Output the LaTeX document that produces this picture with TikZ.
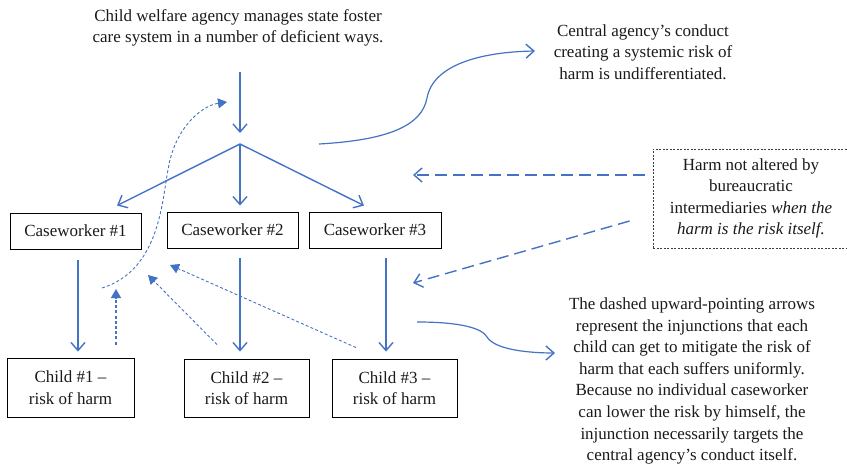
\documentclass[tikz,border=0pt]{standalone}
\usepackage{fontspec}
\setmainfont{Liberation Serif}
\usetikzlibrary{arrows.meta,calc}
\definecolor{bl}{HTML}{4472C4}
\definecolor{ink}{HTML}{1A1A1A}
\tikzset{
  txt/.style={font=\fontsize{17}{21.6}\selectfont, text=ink, align=center, inner sep=0pt},
  box/.style={txt, draw=black, line width=0.9pt, inner sep=0pt},
  arr/.style={draw=bl, line width=1.4pt, -{Straight Barb[length=8pt,width=14pt,line width=1.4pt]}},
  darr/.style={draw=bl, line width=1.4pt, dash pattern=on 12pt off 6pt, -{Straight Barb[length=8pt,width=14pt,line width=1.4pt]}},
  tarr/.style={draw=bl, line width=0.9pt, dash pattern=on 3pt off 2.2pt, -{Triangle[length=9pt,width=10pt]}},
}
\begin{document}
\begin{tikzpicture}[x=1pt,y=-1pt]
\useasboundingbox (0,0) rectangle (847,468);
% texts
\node[txt] (top) at (238,28) {Child welfare agency manages state foster\\care system in a number of deficient ways.};
\node[txt] (central) at (643,52) {Central agency’s conduct\\creating a systemic risk of\\harm is undifferentiated.};
\node[txt, draw=ink!85, line width=0.8pt, dash pattern=on 2pt off 1.5pt, minimum width=196pt, minimum height=99pt] (harm) at (751,198.5)
  {Harm not altered by\\bureaucratic\\intermediaries \textit{when the}\\\textit{harm is the risk itself.}};
\node[txt] (note) at (692,381) {The dashed upward-pointing arrows\\represent the injunctions that each\\child can get to mitigate the risk of\\harm that each suffers uniformly.\\Because no individual caseworker\\can lower the risk by himself, the\\injunction necessarily targets the\\central agency’s conduct itself.};
% boxes
\node[box, minimum width=131pt, minimum height=36pt] (cw1) at (75.5,231) {Caseworker \#1};
\node[box, minimum width=131pt, minimum height=36pt] (cw2) at (232.5,230) {Caseworker \#2};
\node[box, minimum width=132pt, minimum height=36pt] (cw3) at (375,230) {Caseworker \#3};
\node[box, minimum width=127pt, minimum height=59pt] (ch1) at (70.5,387.5) {Child \#1 –\\risk of harm};
\node[box, minimum width=125pt, minimum height=58pt] (ch2) at (246.5,388) {Child \#2 –\\risk of harm};
\node[box, minimum width=125pt, minimum height=58pt] (ch3) at (394.5,388) {Child \#3 –\\risk of harm};
% coordinates
\coordinate (a0) at (240,72);
\coordinate (a1) at (240,133);
\coordinate (br) at (240,144);
\coordinate (s1) at (319,144);
\coordinate (e1) at (535,51);
\coordinate (s2) at (417,322);
\coordinate (e2) at (555,353);
\coordinate (t1) at (116,289);
\coordinate (t2) at (148,275);
\coordinate (t3) at (170,265);
\coordinate (c0) at (102,288);
\coordinate (c1) at (227,102);
\coordinate (h1) at (413,175);
\coordinate (h2) at (413,283);
% main arrows
\draw[arr] (a0) -- (a1);
\draw[arr] (br) -- ([xshift=41.5pt,yshift=7pt]cw1.north);
\draw[arr] (br) -- ([xshift=7.5pt,yshift=6pt]cw2.north);
\draw[arr] (br) -- ([xshift=-11pt,yshift=6pt]cw3.north);
\draw[arr] ([xshift=2.5pt,yshift=-11pt]cw1.south) -- ([xshift=7.5pt,yshift=6pt]ch1.north);
\draw[arr] ([xshift=7.5pt,yshift=-10pt]cw2.south) -- ([xshift=-6.5pt,yshift=7pt]ch2.north);
\draw[arr] ([xshift=11pt,yshift=-10pt]cw3.south) -- ([xshift=-8.5pt,yshift=7pt]ch3.north);
% curvy arrows
\draw[arr, line width=1.2pt] (s1) .. controls (390,140) and (422,125) .. (427,98) .. controls (433,65) and (480,52) .. (e1);
\draw[arr, line width=1.2pt] (s2) .. controls (460,322) and (482,328) .. (487,337) .. controls (495,350) and (530,353) .. (e2);
% dashed from harm box
\draw[darr] ([xshift=-8pt,yshift=23.5pt]harm.west) -- (h1);
\draw[darr] ([xshift=-23pt,yshift=-22.5pt]harm.west) -- (h2);
% thin dashed upward arrows
\draw[tarr, line width=1.2pt] ([xshift=45.5pt,yshift=13pt]ch1.north) -- (t1);
\draw[tarr] ([xshift=-29.5pt,yshift=14pt]ch2.north) -- (t2);
\draw[tarr] ([xshift=-38.5pt,yshift=11pt]ch3.north) -- (t3);
\draw[tarr] (c0) .. controls (160,270) and (162,200) .. (168,170) .. controls (174,130) and (200,106) .. (c1);
\end{tikzpicture}
\end{document}
